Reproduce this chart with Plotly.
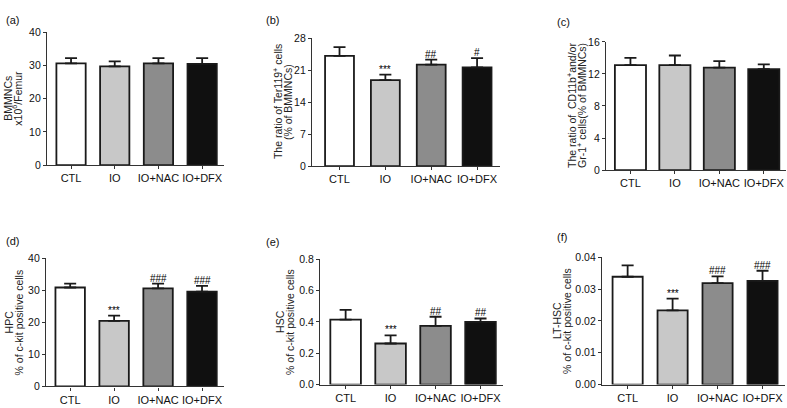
import plotly.graph_objects as go

categories = ["CTL", "IO", "IO+NAC", "IO+DFX"]
bar_colors = ["#ffffff", "#c8c8c8", "#8c8c8c", "#101010"]

bmmnc = [30.6, 29.7, 30.6, 30.5]
bmmnc_err = [1.6, 1.5, 1.6, 1.7]
ter119 = [24.1, 18.8, 22.2, 21.6]
ter119_err = [1.9, 1.2, 1.1, 2.0]
cd11b = [13.1, 13.1, 12.8, 12.6]
cd11b_err = [0.9, 1.2, 0.8, 0.6]
hpc = [30.9, 20.5, 30.6, 29.6]
hpc_err = [1.2, 1.6, 1.5, 1.8]
hsc = [0.415, 0.262, 0.375, 0.400]
hsc_err = [0.062, 0.052, 0.058, 0.022]
lthsc = [0.0339, 0.0233, 0.0319, 0.0326]
lthsc_err = [0.0036, 0.0037, 0.0021, 0.0032]

sig_b = ["", "***", "##", "#"]
sig_d = ["", "***", "###", "###"]
sig_e = ["", "***", "##", "##"]
sig_f = ["", "***", "###", "###"]

yticks_a = [0, 10, 20, 30, 40]
yticks_b = [0, 7, 14, 21, 28]
yticks_c = [0, 4, 8, 12, 16]
yticks_d = [0, 10, 20, 30, 40]
yticks_e = [0.0, 0.2, 0.4, 0.6, 0.8]
yticks_f = [0.00, 0.01, 0.02, 0.03, 0.04]

W, H = 787, 408
FONT = "Liberation Sans Narrow, Liberation Sans, Arial, sans-serif"

panels = [
    dict(lab="(a)", v=bmmnc, e=bmmnc_err, sig=None, t=yticks_a, fmt="{:g}",
         title=["BMMNCs", "x10<sup>6</sup>/Femur"], tx=(8, 17),
         x=(47, 224), y=(27, 164), x0=-0.55, bw=0.67, lx=4, ly=14),
    dict(lab="(b)", v=ter119, e=ter119_err, sig=sig_b, t=yticks_b, fmt="{:g}",
         title=["The ratio of Ter119<sup>+</sup> cells", "(% of BMMNCs)"], tx=(277, 288),
         x=(312, 500), y=(33, 165), x0=-0.6, bw=0.63, lx=264, ly=14),
    dict(lab="(c)", v=cd11b, e=cd11b_err, sig=None, t=yticks_c, fmt="{:g}",
         title=["The ratio of  CD11b<sup>+</sup>and/or", "Gr-1<sup>+</sup> cells(% of BMMNCs)"], tx=(572, 582),
         x=(606, 786), y=(37, 169), x0=-0.55, bw=0.7, lx=555, ly=16),
    dict(lab="(d)", v=hpc, e=hpc_err, sig=sig_d, t=yticks_d, fmt="{:g}",
         title=["HPC", "% of c-kit positive cells"], tx=(9, 19),
         x=(46, 224), y=(260, 392), x0=-0.55, bw=0.67, lx=4, ly=242),
    dict(lab="(e)", v=hsc, e=hsc_err, sig=sig_e, t=yticks_e, fmt="{:.1f}",
         title=["HSC", "% of c-kit positive cells"], tx=(280, 290),
         x=(320, 503), y=(261, 390), x0=-0.57, bw=0.68, lx=264, ly=243),
    dict(lab="(f)", v=lthsc, e=lthsc_err, sig=sig_f, t=yticks_f, fmt="{:.2f}",
         title=["LT-HSC", "% of c-kit positive cells"], tx=(557, 567),
         x=(602, 785), y=(259, 390), x0=-0.57, bw=0.67, lx=555, ly=238),
]

fig = go.Figure()
annotations = []
layout = {}
for i, p in enumerate(panels, start=1):
    xa = "x" if i == 1 else f"x{i}"
    ya = "y" if i == 1 else f"y{i}"
    fig.add_trace(go.Bar(
        x=categories, y=p["v"], xaxis=xa, yaxis=ya, width=p["bw"],
        marker=dict(color=bar_colors, line=dict(color="#1a1a1a", width=1.8)),
        error_y=dict(type="data", array=p["e"], arrayminus=[0] * 4, symmetric=False,
                     color="#1a1a1a", thickness=1.8, width=6),
        showlegend=False, hoverinfo="skip",
    ))
    xdom = [p["x"][0] / W, p["x"][1] / W]
    ydom = [1 - p["y"][1] / H, 1 - p["y"][0] / H]
    ymax = p["t"][-1]
    layout[f"xaxis{i}"] = dict(
        domain=xdom, anchor=ya, range=[p["x0"], 3.5], type="category",
        showline=True, linecolor="#333333", linewidth=1.2,
        ticks="outside", ticklen=3, tickcolor="#333333", tickwidth=1,
        tickfont=dict(family=FONT, size=11, color="#111111"), showgrid=False, zeroline=False,
        fixedrange=True,
    )
    layout[f"yaxis{i}"] = dict(
        domain=ydom, anchor=xa, range=[0, ymax], tickvals=p["t"],
        ticktext=[p["fmt"].format(v) for v in p["t"]],
        showline=True, linecolor="#333333", linewidth=1.2,
        ticks="outside", ticklen=3, tickcolor="#333333", tickwidth=1,
        tickfont=dict(family=FONT, size=10.5, color="#111111"), showgrid=False, zeroline=False,
        fixedrange=True,
    )
    # y title, one annotation per line
    for line, tx in zip(p["title"], p["tx"]):
        annotations.append(dict(
            text=line, xref="paper", yref="paper", x=tx / W,
            y=(ydom[0] + ydom[1]) / 2, textangle=-90, showarrow=False,
            xanchor="center", yanchor="middle",
            font=dict(family=FONT, size=10.5, color="#222222"),
        ))
    # panel label
    annotations.append(dict(
        text=p["lab"], xref="paper", yref="paper", x=p["lx"] / W, y=1 - p["ly"] / H,
        showarrow=False, xanchor="left", yanchor="middle",
        font=dict(family=FONT, size=11, color="#111111"),
    ))
    if p["sig"]:
        for c, v, e, s in zip(categories, p["v"], p["e"], p["sig"]):
            if s:
                annotations.append(dict(
                    text=s, x=c, y=v + e, xref=xa, yref=ya, showarrow=False,
                    yanchor="bottom", yshift=-2,
                    font=dict(family=FONT, size=10, color="#000000"),
                ))

fig.update_layout(
    width=W, height=H, margin=dict(l=0, r=0, t=0, b=0),
    paper_bgcolor="white", plot_bgcolor="white", bargap=0.3,
    annotations=annotations, **layout,
)

fig.write_html(
    "out.html",
    config={"displayModeBar": False},
    post_script="document.body.style.margin='0px';document.body.style.overflow='hidden';",
)
